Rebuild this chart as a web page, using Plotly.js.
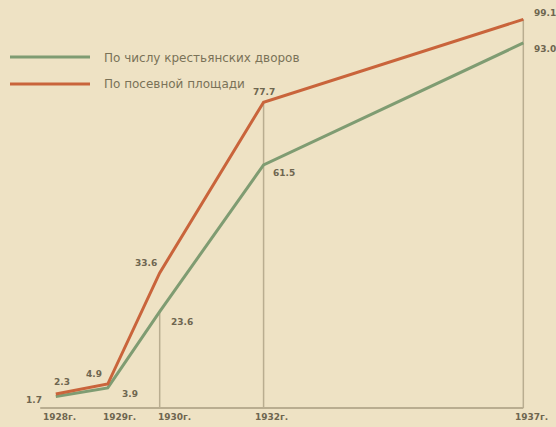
<!DOCTYPE html>
<html><head><meta charset="utf-8">
<script src="https://cdn.plot.ly/plotly-3.0.1.min.js"></script>
<style>html,body{margin:0;padding:0;background:#eee2c4;}#chart{width:556px;height:427px;}</style>
</head><body><div id="chart"></div>
<script>
// Data
const years = [1928, 1929, 1930, 1932, 1937];
const households = [1.7, 3.9, 23.6, 61.5, 93.0];   // По числу крестьянских дворов
const sownArea = [2.3, 4.9, 33.6, 77.7, 99.1];     // По посевной площади
const householdLabels = ["1.7", "3.9", "23.6", "61.5", "93.0"];
const sownLabels = ["2.3", "4.9", "33.6", "77.7", "99.1"];
const seriesNames = ["По числу крестьянских дворов", "По посевной площади"];
const tickLabels = years.map(y => y + "г.");

// Styles
const green = "#7f9c72", orange = "#c9643b", ink = "#6e6650", grid = "#b9ad90";
const lblFont = {family: "DejaVu Sans", size: 9, color: ink, weight: 700};
const legFont = {family: "DejaVu Sans", size: 12, color: "#7a7258"};

const traces = [
  {x: years, y: households, type: "scatter", mode: "lines", name: seriesNames[0],
   line: {color: green, width: 3}, showlegend: false, hoverinfo: "skip"},
  {x: years, y: sownArea, type: "scatter", mode: "lines", name: seriesNames[1],
   line: {color: orange, width: 3}, showlegend: false, hoverinfo: "skip"}
];

// label offsets (style only)
const hOff = [[-22, -4], [22, -6], [22, -10], [20, -8], [22, -6]];
const sOff = [[6, 12], [-14, 10], [-14, 10], [0, 10], [22, 6]];

const annotations = [];
years.forEach((yr, i) => {
  annotations.push({x: yr, y: households[i], text: householdLabels[i], showarrow: false,
    xshift: hOff[i][0], yshift: hOff[i][1], font: lblFont});
  annotations.push({x: yr, y: sownArea[i], text: sownLabels[i], showarrow: false,
    xshift: sOff[i][0], yshift: sOff[i][1], font: lblFont});
  annotations.push({x: yr, y: -1.3, text: tickLabels[i], showarrow: false,
    xshift: [4, 12, 15, 8, 8][i], yshift: -9, font: lblFont});
});
// legend text
annotations.push({xref: "paper", yref: "paper", x: 102/556, y: 1 - 49/427, xanchor: "left",
  text: seriesNames[0], showarrow: false, font: legFont});
annotations.push({xref: "paper", yref: "paper", x: 102/556, y: 1 - 75/427, xanchor: "left",
  text: seriesNames[1], showarrow: false, font: legFont});

const shapes = [
  {type: "line", xref: "x", yref: "y", x0: years[0] - 0.3, x1: years[years.length - 1], y0: -1.3, y1: -1.3,
   line: {color: grid, width: 2}},
  {type: "line", xref: "paper", yref: "paper", x0: 10/556, x1: 90/556, y0: 1 - 57/427, y1: 1 - 57/427,
   line: {color: green, width: 3}},
  {type: "line", xref: "paper", yref: "paper", x0: 10/556, x1: 90/556, y0: 1 - 84/427, y1: 1 - 84/427,
   line: {color: orange, width: 3}}
];
// vertical drop lines
[2, 3, 4].forEach(i => {
  const top = i === 2 ? households[i] : sownArea[i];
  shapes.push({type: "line", xref: "x", yref: "y", x0: years[i], x1: years[i], y0: -1.3, y1: top,
    line: {color: grid, width: 1.5}, layer: "below"});
});

const layout = {
  width: 556, height: 427,
  margin: {l: 0, r: 0, t: 0, b: 0},
  paper_bgcolor: "#eee2c4", plot_bgcolor: "#eee2c4",
  xaxis: {range: [1926.926, 1937.629], visible: false, fixedrange: true},
  yaxis: {range: [-6.2, 104.1], visible: false, fixedrange: true},
  annotations: annotations, shapes: shapes, showlegend: false
};
Plotly.newPlot("chart", traces, layout, {displayModeBar: false, staticPlot: true});
</script></body></html>
